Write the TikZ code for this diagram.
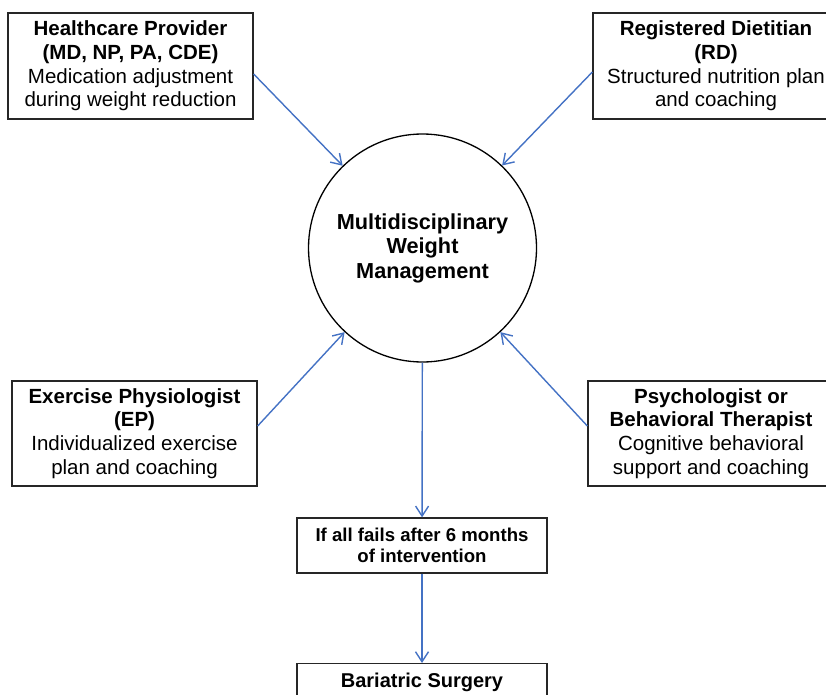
\documentclass[tikz,border=0pt]{standalone}
\usepackage{fontspec}
\setmainfont{Liberation Sans}
\usetikzlibrary{arrows.meta}
\definecolor{flowblue}{RGB}{68,114,196}

\begin{document}
\begin{tikzpicture}[x=1pt,y=-1pt,
	box/.style={draw=black!85, line width=1.3pt, align=center, inner sep=0pt,
		minimum height=106pt, font=\fontsize{20.5}{23.7}\selectfont},
	flow/.style={color=flowblue, line width=1.4pt,
		-{Straight Barb[length=10pt,width=13pt,line width=1.4pt]}}]
\useasboundingbox (0,0) rectangle (826,695);
\clip (0,0) rectangle (826,695);

%% Centro %%
\node[draw, circle, line width=1.3pt, minimum size=228pt, align=center,
	font=\fontsize{21.7}{24.5}\selectfont\bfseries] (mwm) at (422.5,248)
	{Multidisciplinary\\Weight\\Management};

%% Cajas %%
\node[box, minimum width=245pt] (hp) at (130.5,66)
	{\textbf{Healthcare Provider}\\\textbf{(MD, NP, PA, CDE)}\\Medication adjustment\\during weight reduction};
\node[box, minimum width=246pt] (rd) at (716,66)
	{\textbf{Registered Dietitian}\\\textbf{(RD)}\\Structured nutrition plan\\and coaching};
\node[box, minimum width=245pt, minimum height=105pt] (ep) at (134.5,433.5)
	{\textbf{Exercise Physiologist}\\\textbf{(EP)}\\Individualized exercise\\plan and coaching};
\node[box, minimum width=246pt, minimum height=105pt] (pt) at (711,433.5)
	{\textbf{Psychologist or}\\\textbf{Behavioral Therapist}\\Cognitive behavioral\\support and coaching};
\node[box, minimum width=250pt, minimum height=55pt,
	font=\fontsize{18.6}{21.5}\selectfont\bfseries] (fail) at (422,545.5)
	{If all fails after 6 months\\of intervention};
\node[box, minimum width=250pt, minimum height=38pt, anchor=north,
	font=\fontsize{20}{23}\selectfont\bfseries] (bs) at (422,663)
	{Bariatric Surgery};

%% Flechas %%
\foreach \n/\a/\s in {hp/east/-8pt, rd/west/-6pt, ep/east/7.5pt, pt/west/7.5pt}
	\draw[flow] ([yshift=\s]\n.\a) -- (mwm);
\draw[flow] (mwm) -- (fail);
\draw[flow] (fail) -- (bs);
\end{tikzpicture}
\end{document}
